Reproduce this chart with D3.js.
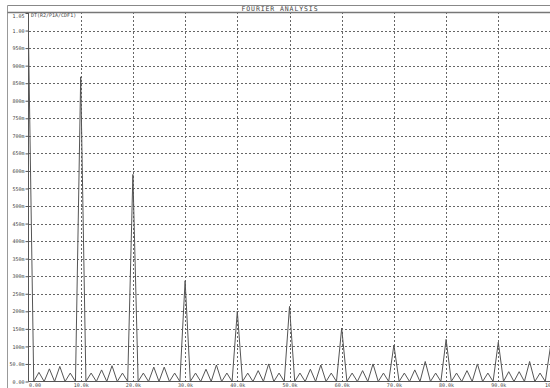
<!DOCTYPE html>
<html>
<head>
<meta charset="UTF-8">
<title>Fourier analysis</title>
<style>
  body { margin: 0; background: #fff; }
  svg { display: block; }
  text { font-family: "DejaVu Sans Mono", monospace; fill: #444; }
  .grid line { stroke: #666; stroke-width: 1; stroke-dasharray: 2,2; shape-rendering: crispEdges; }
  .grid path { display: none; }
</style>
</head>
<body>
<svg id="chart" width="550" height="388"></svg>
<script src="https://cdn.jsdelivr.net/npm/d3@7"></script>
<script>
// magnitude of DT(R2/P1A/CDF1), one sample every 1 kHz from 0 to 100 kHz
var freqStep = 1000;
var magnitude = [
  0.980, 0, 0.026, 0, 0.036, 0, 0.043, 0, 0.024, 0,
  0.868, 0, 0.024, 0, 0.033, 0, 0.045, 0, 0.024, 0,
  0.590, 0, 0.024, 0, 0.041, 0, 0.041, 0, 0.024, 0,
  0.287, 0, 0.024, 0, 0.035, 0, 0.047, 0, 0.024, 0,
  0.200, 0, 0.024, 0, 0.031, 0, 0.050, 0, 0.024, 0,
  0.214, 0, 0.024, 0, 0.035, 0, 0.047, 0, 0.024, 0,
  0.152, 0, 0.024, 0, 0.031, 0, 0.050, 0, 0.024, 0,
  0.104, 0, 0.024, 0, 0.033, 0, 0.057, 0, 0.024, 0,
  0.120, 0, 0.024, 0, 0.031, 0, 0.050, 0, 0.024, 0,
  0.112, 0, 0.028, 0, 0.028, 0, 0.057, 0, 0.024, 0,
  0.100
];
var xTicks = [0, 10000, 20000, 30000, 40000, 50000, 60000, 70000, 80000, 90000, 100000];
var xTickLabels = ["0.00", "10.0k", "20.0k", "30.0k", "40.0k", "50.0k", "60.0k", "70.0k", "80.0k", "90.0k", "100k"];
var yTicks = [0, 0.05, 0.1, 0.15, 0.2, 0.25, 0.3, 0.35, 0.4, 0.45, 0.5, 0.55, 0.6, 0.65, 0.7, 0.75, 0.8, 0.85, 0.9, 0.95, 1.0, 1.05];
var yTickLabels = ["0.00", "50.0m", "100m", "150m", "200m", "250m", "300m", "350m", "400m", "450m", "500m", "550m",
                   "600m", "650m", "700m", "750m", "800m", "850m", "900m", "950m", "1.00", "1.05"];
var title = "FOURIER ANALYSIS";
var traceName = "DT(R2/P1A/CDF1)";

var svg = d3.select("#chart");
var plotL = 28.5, plotR = 550.5, plotT = 13, plotB = 381.5;

var x = d3.scaleLinear().domain([0, 100000]).range([plotL, plotR]);
var y = d3.scaleLinear().domain([0, 1.05]).range([plotB, plotT]);

// outer frame + title bar
svg.append("line").attr("x1", 7.5).attr("x2", 550).attr("y1", 5.5).attr("y2", 5.5)
   .attr("stroke", "#888").attr("stroke-width", 1);
svg.append("line").attr("x1", 7.5).attr("x2", 7.5).attr("y1", 5.5).attr("y2", 388)
   .attr("stroke", "#999").attr("stroke-width", 1);
svg.append("text").attr("x", 280).attr("y", 11.2)
   .attr("text-anchor", "middle").style("font-size", "6.5px").style("letter-spacing", "0.9px")
   .text(title);

// grid
svg.append("g").attr("class", "grid")
   .attr("transform", "translate(0," + plotB + ")")
   .call(d3.axisBottom(x).tickValues(xTicks.slice(1)).tickSize(-(plotB - plotT)).tickFormat(""));
svg.append("g").attr("class", "grid")
   .attr("transform", "translate(" + plotL + ",0)")
   .call(d3.axisLeft(y).tickValues(yTicks.slice(1, -1)).tickSize(-(plotR - plotL)).tickFormat(""));

// plot top border
svg.append("line").attr("x1", 7.5).attr("x2", 550).attr("y1", 12.5).attr("y2", 12.5)
   .attr("stroke", "#777").attr("stroke-width", 1.5);

// trace
var line = d3.line()
  .x(function(d, i) { return x(i * freqStep); })
  .y(function(d) { return y(d); });
svg.append("path").datum(magnitude)
   .attr("fill", "none").attr("stroke", "#555").attr("stroke-width", 1)
   .attr("d", line);

// axis lines
svg.append("line").attr("x1", plotL).attr("x2", plotL).attr("y1", plotT).attr("y2", plotB)
   .attr("stroke", "#555").attr("stroke-width", 1);
svg.append("line").attr("x1", plotL).attr("x2", 550).attr("y1", plotB).attr("y2", plotB)
   .attr("stroke", "#555").attr("stroke-width", 1);

// y ticks and labels
var yAxis = d3.axisLeft(y).tickValues(yTicks).tickSize(3).tickPadding(1)
  .tickFormat(function(d, i) { return yTickLabels[i]; });
var gy = svg.append("g").attr("transform", "translate(" + plotL + ",0)").call(yAxis);
gy.select(".domain").remove();
gy.selectAll(".tick line").attr("stroke", "#555");
gy.selectAll(".tick text").style("font-size", "5px").attr("fill", "#444")
  .attr("font-family", null).attr("dy", function(d, i) { return i === yTicks.length - 1 ? "0.9em" : "0.32em"; });

// x labels
var xAxis = d3.axisBottom(x).tickValues(xTicks).tickSize(0).tickPadding(2)
  .tickFormat(function(d, i) { return xTickLabels[i]; });
var gx = svg.append("g").attr("transform", "translate(0," + plotB + ")").call(xAxis);
gx.select(".domain").remove();
gx.selectAll(".tick text").style("font-size", "5px").attr("fill", "#444").attr("font-family", null)
  .attr("text-anchor", function(d, i) { return i === 0 ? "start" : "middle"; });

// trace name
svg.append("text").attr("x", 31).attr("y", 16.5).style("font-size", "5px").text(traceName);
</script>
</body>
</html>
